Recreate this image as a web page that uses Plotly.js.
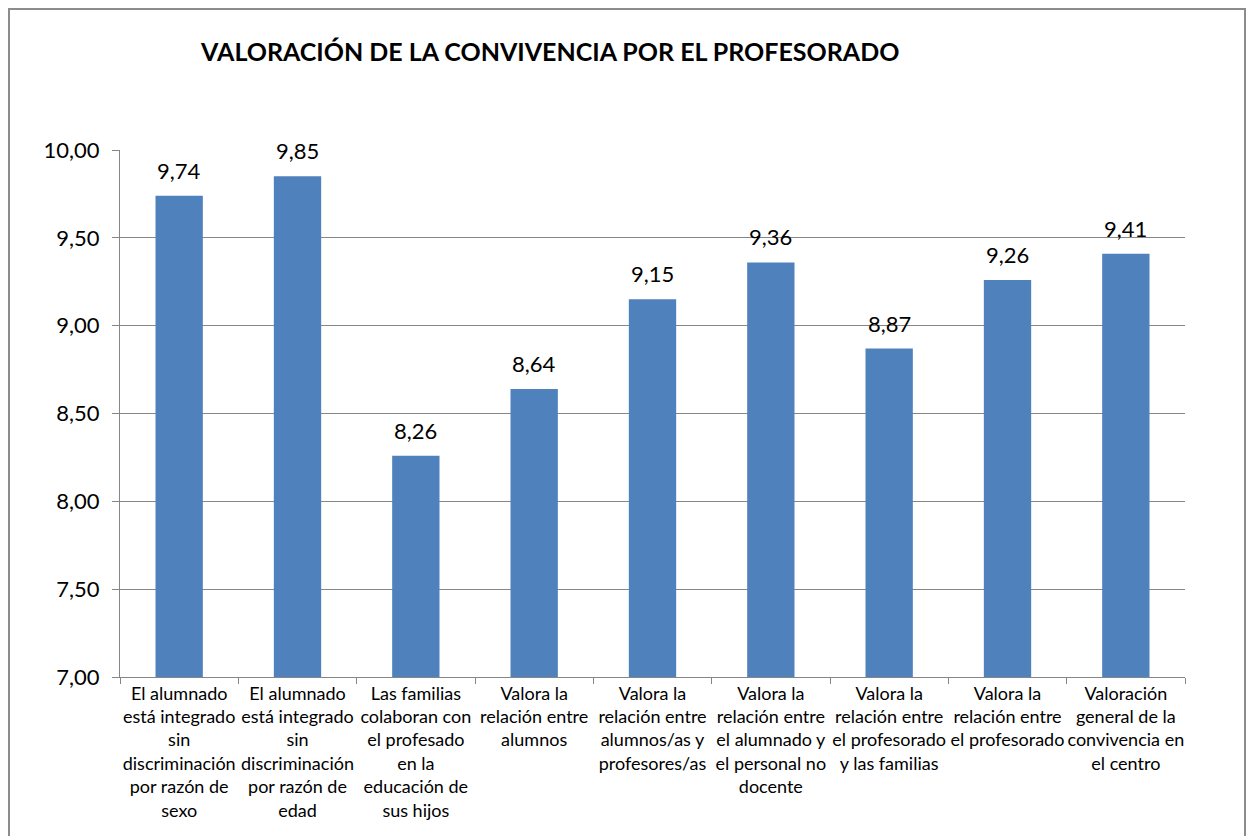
<!DOCTYPE html>
<html>
<head>
<meta charset="utf-8">
<script src="https://cdn.plot.ly/plotly-3.0.1.min.js"></script>
<style>
  html, body { margin: 0; padding: 0; background: #fff; }
  #chart { width: 1246px; height: 836px; }
  #frame {
    position: absolute; left: 8px; top: 8px; width: 1234px; height: 850px;
    border: 2px solid #8c8c8c; pointer-events: none;
  }
</style>
</head>
<body>
<div id="chart"></div>
<div id="frame"></div>
<script>
const categories = [
    "El alumnado<br>está integrado<br>sin<br>discriminación<br>por razón de<br>sexo",
    "El alumnado<br>está integrado<br>sin<br>discriminación<br>por razón de<br>edad",
    "Las familias<br>colaboran con<br>el profesado<br>en la<br>educación de<br>sus hijos",
    "Valora la<br>relación entre<br>alumnos",
    "Valora la<br>relación entre<br>alumnos/as y<br>profesores/as",
    "Valora la<br>relación entre<br>el alumnado y<br>el personal no<br>docente",
    "Valora la<br>relación entre<br>el profesorado<br>y las familias",
    "Valora la<br>relación entre<br>el profesorado",
    "Valoración<br>general de la<br>convivencia en<br>el centro",
];
const scores = [9.74, 9.85, 8.26, 8.64, 9.15, 9.36, 8.87, 9.26, 9.41];
const yTicks = [7, 7.5, 8, 8.5, 9, 9.5, 10];

const fontFamily = "Lato, 'Open Sans', sans-serif";

// value labels sit a bit above the bar tops, like the original
const valueLabels = scores.map((v, i) => ({
    x: categories[i],
    y: v,
    xref: "x",
    yref: "y",
    text: v.toFixed(2).replace(".", ","),
    showarrow: false,
    yanchor: "bottom",
    yshift: 10,
    font: { family: fontFamily, size: 22, color: "#000" },
}));

const trace = {
    type: "bar",
    x: categories,
    y: scores,
    marker: { color: "#4f81bd" },
    hoverinfo: "skip",
};

const layout = {
    width: 1246,
    height: 836,
    paper_bgcolor: "#fff",
    plot_bgcolor: "#fff",
    separators: ",.",
    margin: { l: 120, r: 61, t: 150, b: 159 },
    bargap: 0.6,
    showlegend: false,
    annotations: valueLabels,
    title: {
        text: "<b>VALORACIÓN DE LA CONVIVENCIA POR EL PROFESORADO</b>",
        font: { family: fontFamily, size: 25, color: "#000" },
        xref: "paper",
        x: 0.404,
        xanchor: "center",
        yref: "container",
        y: 0.938,
        yanchor: "middle",
    },
    xaxis: {
        type: "category",
        showline: true,
        linecolor: "#868686",
        linewidth: 1,
        ticks: "outside",
        tickson: "boundaries",
        ticklen: 6,
        tickcolor: "#868686",
        tickangle: 0,
        tickfont: { family: fontFamily, size: 18, color: "#000" },
        showgrid: false,
    },
    yaxis: {
        range: [7, 10],
        tickvals: yTicks,
        tickformat: ".2f",
        showline: true,
        linecolor: "#868686",
        ticks: "outside",
        ticklen: 7,
        tickcolor: "#868686",
        ticklabelstandoff: 8,
        showgrid: true,
        gridcolor: "#868686",
        gridwidth: 1,
        zeroline: false,
        tickfont: { family: fontFamily, size: 22, color: "#000" },
    },
};

Plotly.newPlot("chart", [trace], layout, { displayModeBar: false, staticPlot: true });
</script>
</body>
</html>
